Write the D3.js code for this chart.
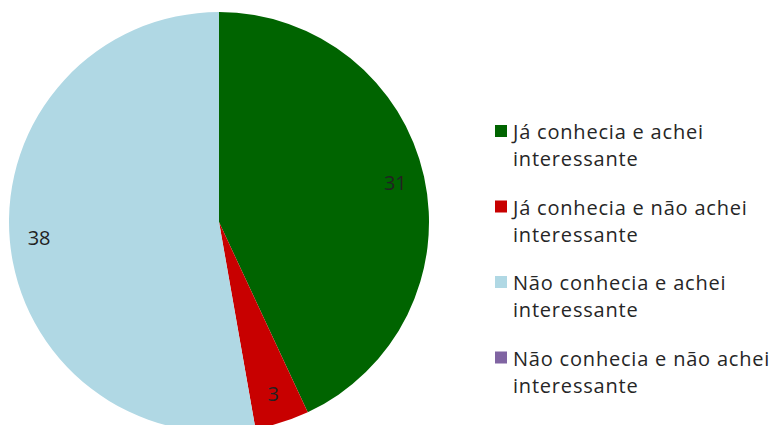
<!DOCTYPE html>
<html>
<head>
<meta charset="utf-8">
<script src="https://cdn.jsdelivr.net/npm/d3@7/dist/d3.min.js"></script>
<style>
  html, body { margin: 0; padding: 0; background: #fff; }
  svg { display: block; }
</style>
</head>
<body>
<svg id="chart" width="780" height="425"></svg>
<script>
// Survey answers
const categories = [
  "Já conhecia e achei interessante",
  "Já conhecia e não achei interessante",
  "Não conhecia e achei interessante",
  "Não conhecia e não achei interessante"
];
const values = [31, 3, 38, 0];
const colors = ["#006400", "#c80000", "#b0d8e4", "#8064a2"];

const width = 780, height = 425;
const cx = 219, cy = 222, radius = 210;

const svg = d3.select("#chart");
const data = categories.map((c, i) => ({ name: c, value: values[i], color: colors[i] }));

const pie = d3.pie().sort(null).value(d => d.value);
const arc = d3.arc().innerRadius(0).outerRadius(radius);
const labelArc = d3.arc().innerRadius(radius * 0.86).outerRadius(radius * 0.86);

const g = svg.append("g").attr("transform", `translate(${cx},${cy})`);
const arcs = pie(data);

g.selectAll("path.slice")
  .data(arcs)
  .join("path")
  .attr("class", "slice")
  .attr("d", arc)
  .attr("fill", d => d.data.color);

g.selectAll("text.val")
  .data(arcs.filter(d => d.data.value > 0))
  .join("text")
  .attr("class", "val")
  .attr("transform", d => `translate(${labelArc.centroid(d)})`)
  .attr("text-anchor", "middle")
  .attr("dy", "0.35em")
  .attr("font-family", "'Open Sans', 'Noto Sans', sans-serif")
  .attr("font-size", 20)
  .attr("fill", "#222")
  .text(d => d.data.value);

// Legend: two-line labels
const legend = svg.append("g").attr("transform", "translate(495,125)");
const item = legend.selectAll("g.item")
  .data(data)
  .join("g")
  .attr("class", "item")
  .attr("transform", (d, i) => `translate(0,${i * 75.5})`);

item.append("rect")
  .attr("width", 12).attr("height", 12)
  .attr("fill", d => d.color);

item.append("text")
  .attr("x", 18)
  .attr("font-family", "'Open Sans', 'Noto Sans', sans-serif")
  .attr("font-size", 20)
  .attr("letter-spacing", 0.8)
  .attr("fill", "#262626")
  .each(function (d) {
    const words = d.name.split(" ");
    const first = words.slice(0, -1).join(" ");
    const last = words[words.length - 1];
    const t = d3.select(this);
    t.append("tspan").attr("x", 18).attr("y", 14).text(first);
    t.append("tspan").attr("x", 18).attr("y", 41).text(last);
  });
</script>
</body>
</html>
